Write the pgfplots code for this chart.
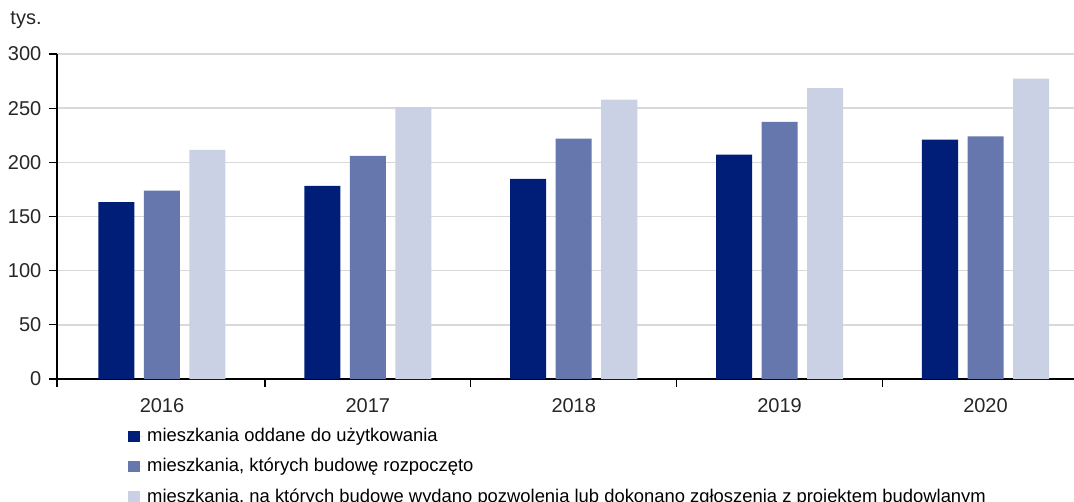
\documentclass[border=0pt]{standalone}
\usepackage{pgfplots}
\pgfplotsset{compat=1.18}
\usepackage{fontspec}
\setmainfont{Liberation Sans}
\definecolor{cDark}{HTML}{001E78}
\definecolor{cMed}{HTML}{6577AC}
\definecolor{cLight}{HTML}{CBD1E4}
\definecolor{cGrid}{HTML}{D9D9D9}
\definecolor{cText}{HTML}{262626}
\begin{document}
\begin{tikzpicture}
\begin{axis}[
  scale only axis,
  width=508.5pt, height=162.5pt,
  xmin=-0.51, xmax=4.43,
  ymin=0, ymax=300,
  ybar=4.75pt, bar width=18pt,
  axis lines=left,
  axis line style={-, black, line width=0.6pt},
  xtick={0,1,2,3,4},
  xticklabels={2016,2017,2018,2019,2020},
  major x tick style={draw=none},
  minor xtick={-0.51,0.5,1.5,2.5,3.5},
  minor x tick style={black, line width=0.6pt},
  minor tick length=4pt,
  ytick={0,50,...,300},
  ymajorgrids,
  grid style={cGrid, line width=0.8pt},
  major y tick style={black, line width=0.6pt},
  major tick length=4pt,
  tick align=outside,
  tick pos=left,
  /pgf/number format/assume math mode=true,
  ticklabel style={font=\fontsize{10}{12}\selectfont, text=cText},
  yticklabel style={xshift=-0.3pt},
  xticklabel style={yshift=-2pt},
  legend style={at={(rel axis cs:0,0)}, anchor=north west, xshift=35.5pt, yshift=-22.5pt,
    draw=none, fill=none, inner sep=0pt, row sep=2.8pt,
    font=\fontsize{9.2}{11}\selectfont, text=black},
  legend cell align=left,
  legend image code/.code={\fill[#1] (0pt,-2.9pt) rectangle (5.6pt,2.9pt); \path (0pt,0pt) -- (7.4pt,0pt);},
  clip=false,
]
\addplot[fill=cDark, draw=none] coordinates {(0,163.3) (1,178.3) (2,184.8) (3,207.2) (4,221.0)};
\addplot[fill=cMed, draw=none] coordinates {(0,173.9) (1,206.0) (2,221.9) (3,237.3) (4,223.9)};
\addplot[fill=cLight, draw=none] coordinates {(0,211.5) (1,250.9) (2,257.9) (3,268.6) (4,277.3)};
\legend{{mieszkania oddane do użytkowania},
{mieszkania, których budowę rozpoczęto},
{mieszkania, na których budowę wydano pozwolenia lub dokonano zgłoszenia z projektem budowlanym}}
\coordinate (O) at (rel axis cs:0,0);
\node[font=\fontsize{10}{12}\selectfont, text=cText] at ([shift={(-15.5pt,17pt)}]rel axis cs:0,1) {tys.};
\end{axis}
\pgfresetboundingbox
\path ([shift={(-28.5pt,-61.5pt)}]O) rectangle ([shift={(508.5pt,189.5pt)}]O);
\end{tikzpicture}
\end{document}
